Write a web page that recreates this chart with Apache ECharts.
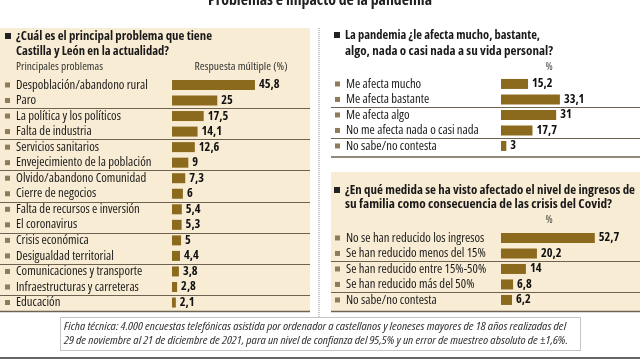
<!DOCTYPE html>
<html><head><meta charset="utf-8">
<script src="https://cdn.jsdelivr.net/npm/echarts@6/dist/echarts.min.js"></script>
<style>html,body{margin:0;padding:0;background:#fff;overflow:hidden}#c{width:640px;height:360px}</style>
</head><body><div id="c"></div>
<script>
const mainTitle = 'Problemas e impacto de la pandemia';

const problemTitle = ['¿Cuál es el principal problema que tiene', 'Castilla y León en la actualidad?'];
const problemColHead = 'Principales problemas';
const problemValHead = 'Respuesta múltiple (%)';
const problemCats = ['Despoblación/abandono rural', 'Paro', 'La política y los políticos', 'Falta de industria',
  'Servicios sanitarios', 'Envejecimiento de la población', 'Olvido/abandono Comunidad', 'Cierre de negocios',
  'Falta de recursos e inversión', 'El coronavirus', 'Crisis económica', 'Desigualdad territorial',
  'Comunicaciones y transporte', 'Infraestructuras y carreteras', 'Educación'];
const problemVals = [45.8, 25, 17.5, 14.1, 12.6, 9, 7.3, 6, 5.4, 5.3, 5, 4.4, 3.8, 2.8, 2.1];

const impactTitle = ['La pandemia ¿le afecta mucho, bastante,', 'algo, nada o casi nada a su vida personal?'];
const impactCats = ['Me afecta mucho', 'Me afecta bastante', 'Me afecta algo', 'No me afecta nada o casi nada', 'No sabe/no contesta'];
const impactVals = [15.2, 33.1, 31, 17.7, 3];

const incomeTitle = ['¿En qué medida se ha visto afectado el nivel de ingresos de', 'su familia como consecuencia de las crisis del Covid?'];
const incomeCats = ['No se han reducido los ingresos', 'Se han reducido menos del 15%', 'Se han reducido entre 15%-50%', 'Se han reducido más del 50%', 'No sabe/no contesta'];
const incomeVals = [52.7, 20.2, 14, 6.8, 6.2];

const pctHead = '%';
const footer = ['Ficha técnica: 4.000 encuestas telefónicas asistida por ordenador a castellanos y leoneses mayores de 18 años realizadas del',
  '29 de noviembre al 21 de diciembre de 2021, para un nivel de confianza del 95,5% y un error de muestreo absoluto de ±1,6%.'];

const BAR = '#8b6a1e';
const BEIGE = '#f9ecd4';
const LINE = '#6e6350';
const MARK = '#8c7c5c';

// ---- pick a narrow font available locally ----
const mctx = document.createElement('canvas').getContext('2d');
function measure(text, size, weight, style, fam) {
  mctx.font = [style || '', weight || 'normal', size + 'px', fam].join(' ').trim();
  return mctx.measureText(text).width;
}
const probe = 'Despoblación/abandono rural';
function exists(fam) {
  return measure(probe, 20, 'normal', '', fam + ', monospace') !== measure(probe, 20, 'normal', '', 'monospace') &&
         measure(probe, 20, 'normal', '', fam + ', serif') !== measure(probe, 20, 'normal', '', 'serif');
}
const candidates = [
  {fam: "'Liberation Sans Narrow'", st: ''},
  {fam: "'DejaVu Sans Condensed'", st: ''},
  {fam: "'Roboto Condensed'", st: ''},
  {fam: "'Arial Narrow'", st: ''},
  {fam: "'Noto Sans'", st: 'condensed'},
  {fam: "'Noto Sans'", st: 'semi-condensed'},
  {fam: "'Open Sans'", st: 'condensed'},
  {fam: "'Open Sans'", st: 'semi-condensed'},
  {fam: "Roboto", st: 'condensed'},
  {fam: "'Liberation Sans'", st: ''}
];
let best = null;
candidates.forEach(c => {
  if (!exists(c.fam)) return;
  if (c.st) {
    const w0 = measure(probe, 20, 'normal', '', c.fam);
    const w1 = measure(probe, 20, 'normal', c.st, c.fam);
    if (!(w1 < w0 * 0.97)) return;
  }
  const size = 132 * 20 / measure(probe, 20, 'normal', c.st, c.fam);
  const score = Math.abs(size - 12.8);
  if (!best || score < best.score) best = {fam: c.fam, st: c.st, score: score};
});
if (!best) best = {fam: 'sans-serif', st: ''};
const FONT = best.fam + ', sans-serif';
const ST = best.st;
function fitSize(text, target, weight, cap) {
  const s = target * 20 / measure(text, 20, weight, ST, FONT);
  return Math.min(cap, s);
}
const rowSize = fitSize(probe, 132, 'normal', 13.5);
const valSize = fitSize('45,8', 20.5, 'bold', 13.5);

const chart = echarts.init(document.getElementById('c'), null, {renderer: 'canvas'});
function fmt(v) { return String(v).replace('.', ','); }

const grids = [
  {left: 0, top: 77.2, width: 310, height: 233.1},
  {left: 331, top: 76.2, width: 309, height: 77.5},
  {left: 331, top: 230.2, width: 309, height: 77.5}
];
const xr = [{min: -95.0, max: 76.2}, {min: -95.5, max: 78.1}, {min: -95.5, max: 78.1}];
const catsList = [problemCats, impactCats, incomeCats];
const valsList = [problemVals, impactVals, incomeVals];
const margins = [5, 4, 4];

function yAxis(i) {
  return {
    type: 'category', gridIndex: i, data: catsList[i], inverse: true,
    axisLine: {show: false}, axisTick: {show: false}, splitLine: {show: false},
    axisLabel: {
      inside: true, margin: margins[i], interval: 0,
      formatter: v => '{m| }{t|' + v + '}',
      rich: {
        m: {width: 5, height: 5, backgroundColor: MARK, fontSize: 5},
        t: {fontSize: rowSize, fontFamily: FONT, fontStyle: ST || 'normal', color: '#1a1a1a', padding: [0, 0, 0, 6]}
      }
    }
  };
}
function series(i) {
  return {
    type: 'bar', xAxisIndex: i, yAxisIndex: i, data: valsList[i], barWidth: 10,
    itemStyle: {color: BAR}, silent: true, animation: false,
    label: {show: true, position: 'right', distance: 4, formatter: p => fmt(p.value),
      fontFamily: FONT, fontStyle: ST || 'normal', fontWeight: 'bold', fontSize: valSize, color: '#111'}
  };
}

// text that is fitted to the width measured in the reference
function txt(x, y, s, targetW, opt) {
  opt = opt || {};
  const size = opt.fontSize || 13, weight = opt.fontWeight || 'normal';
  const fs = ((opt.italic ? 'italic ' : '') + ST).trim() || 'normal';
  let sx = 1;
  if (targetW) sx = targetW / measure(s, size, weight, fs === 'normal' ? '' : fs, FONT);
  return {type: 'text', x: x, y: y, z: 5, scaleX: sx, style: {text: s, fontFamily: FONT, fontSize: size,
    fontWeight: weight, fontStyle: fs, fill: opt.fill || '#1a1a1a', verticalAlign: opt.verticalAlign || 'middle',
    align: opt.align || 'left'}};
}
function rect(x, y, w, h, fill, z) {
  return {type: 'rect', shape: {x: x, y: y, width: w, height: h}, z: z === undefined ? -10 : z, style: {fill: fill}};
}
function hline(x1, x2, y, color, w) {
  return {type: 'line', z: 1, shape: {x1: x1, y1: y, x2: x2, y2: y}, style: {stroke: color || LINE, lineWidth: w || 1}};
}

const baseGraphics = [
  rect(0, 28, 310, 283, BEIGE),
  rect(331, 172, 309, 139.5, BEIGE),
  txt(320, 8, mainTitle, 224, {align: 'center', verticalAlign: 'bottom', fontWeight: 'bold', fontSize: 16, fill: '#222'}),
  // left header
  rect(5, 33, 6, 6, '#222', 5),
  txt(16, 36, problemTitle[0], 196, {fontWeight: 'bold'}),
  txt(16, 51.5, problemTitle[1], 153, {fontWeight: 'bold'}),
  txt(16, 67, problemColHead, 87, {fontSize: 11, fill: '#333'}),
  txt(194.5, 67, problemValHead, 93, {fontSize: 11, fill: '#333'}),
  // right top header
  rect(334, 32, 6, 6, '#222', 5),
  txt(345, 35, impactTitle[0], 195, {fontWeight: 'bold'}),
  txt(345, 51.5, impactTitle[1], 208, {fontWeight: 'bold'}),
  txt(549, 67, pctHead, 0, {fontSize: 11, fill: '#444', align: 'center'}),
  // right bottom header
  rect(334, 187, 6, 6, '#222', 5),
  txt(345, 190, incomeTitle[0], 290, {fontWeight: 'bold'}),
  txt(345, 204.5, incomeTitle[1], 267, {fontWeight: 'bold'}),
  txt(549, 220, pctHead, 0, {fontSize: 11, fill: '#444', align: 'center'}),
  // panel bottom lines
  hline(0, 310, 311.5, LINE, 1.5),
  hline(331, 640, 157, LINE, 1.5),
  hline(331, 640, 311.5, LINE, 1.5),
  // dotted vertical divider
  {type: 'line', z: 1, shape: {x1: 319, y1: 28, x2: 319, y2: 317}, style: {stroke: '#8a8a8a', lineWidth: 1, lineDash: [1, 1]}},
  // footer box
  {type: 'rect', z: 1, shape: {x: 60.5, y: 317.5, width: 520, height: 33}, style: {fill: 'none', stroke: '#8a8a8a', lineWidth: 1, lineDash: [1, 1]}},
  txt(64, 327, footer[0], 502, {fontSize: 11, italic: true, fill: '#333'}),
  txt(64, 341, footer[1], 504, {fontSize: 11, italic: true, fill: '#333'}),
  hline(0, 640, 358, '#666', 2)
];

chart.setOption({
  animation: false,
  grid: grids,
  xAxis: grids.map((g, i) => ({type: 'value', gridIndex: i, show: false, min: xr[i].min, max: xr[i].max})),
  yAxis: grids.map((g, i) => yAxis(i)),
  series: grids.map((g, i) => series(i)),
  graphic: baseGraphics
});

// separator lines between every pair of rows, positioned through the category axes
const sep = [];
const spans = [[0, 310], [331, 640], [331, 640]];
catsList.forEach((cats, i) => {
  for (let k = 2; k < cats.length; k += 2) {
    const a = chart.convertToPixel({yAxisIndex: i}, cats[k - 1]);
    const b = chart.convertToPixel({yAxisIndex: i}, cats[k]);
    sep.push(hline(spans[i][0], spans[i][1], Math.round((a + b) / 2) + 0.5, LINE, 1));
  }
});
chart.setOption({graphic: baseGraphics.concat(sep)}, {replaceMerge: ['graphic']});
</script>
</body></html>
